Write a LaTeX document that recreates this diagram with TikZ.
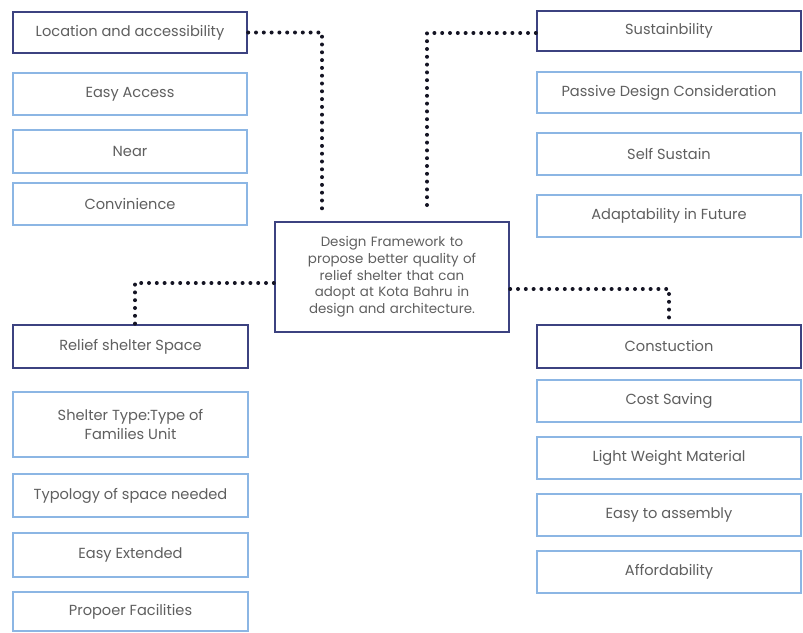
\documentclass[tikz,border=0pt]{standalone}
\usepackage{fontspec}
\setmainfont{Poppins}
\usetikzlibrary{positioning}
\definecolor{navy}{RGB}{60,66,128}
\definecolor{lightb}{RGB}{140,182,228}
\definecolor{txt}{RGB}{95,95,95}
\definecolor{dotc}{RGB}{20,20,35}
\tikzset{
  boxbase/.style={rectangle, fill=white, text=txt, align=center, inner sep=2pt,
    font=\fontsize{14.6}{19.5}\selectfont},
  darkbox/.style={boxbase, draw=navy, line width=2.4pt},
  lightbox/.style={boxbase, draw=lightb, line width=2pt},
  dotline/.style={draw=dotc, line width=4pt, line cap=round, dash pattern=on 0pt off 7.8pt}
}
\begin{document}
\begin{tikzpicture}[x=1pt,y=-1pt]
\useasboundingbox (0,0) rectangle (803,632);
% left top column
\node[darkbox, minimum width=234, minimum height=41] (loc) at (130,32.5) {Location and accessibility};
\node[lightbox, minimum width=234, minimum height=42] (ea) at (130,94) {Easy Access};
\node[lightbox, minimum width=234, minimum height=43] (near) at (130,151.5) {Near};
\node[lightbox, minimum width=234, minimum height=42] (conv) at (130,204) {Convinience};
% right top column
\node[darkbox, minimum width=264, minimum height=40] (sus) at (669,31) {Sustainbility};
\node[lightbox, minimum width=264, minimum height=41] (pas) at (669,92.5) {Passive Design Consideration};
\node[lightbox, minimum width=264, minimum height=42] (self) at (669,154) {Self Sustain};
\node[lightbox, minimum width=264, minimum height=42] (adap) at (669,216) {Adaptability in Future};
% center
\node[darkbox, minimum width=234, minimum height=110, text width=226,
  font=\fontsize{13.4}{16.7}\selectfont] (ctr) at (392,277)
  {Design Framework to\\propose better quality of\\relief shelter that can\\adopt at Kota Bahru in\\design and architecture.};
% left bottom column
\node[darkbox, minimum width=235, minimum height=43] (rel) at (130.5,346.5) {Relief shelter Space};
\node[lightbox, minimum width=235, minimum height=65] (shel) at (130.5,424.5) {Shelter Type:Type of\\Families Unit};
\node[lightbox, minimum width=235, minimum height=43] (typo) at (130.5,495.5) {Typology of space needed};
\node[lightbox, minimum width=235, minimum height=44] (ext) at (130.5,555) {Easy Extended};
\node[lightbox, minimum width=235, minimum height=39] (fac) at (130.5,611.5) {Propoer Facilities};
% right bottom column
\node[darkbox, minimum width=264, minimum height=43] (cons) at (669,346.5) {Constuction};
\node[lightbox, minimum width=264, minimum height=42] (cost) at (669,401) {Cost Saving};
\node[lightbox, minimum width=264, minimum height=42] (light) at (669,458) {Light Weight Material};
\node[lightbox, minimum width=264, minimum height=42] (assm) at (669,515) {Easy to assembly};
\node[lightbox, minimum width=264, minimum height=42] (aff) at (669,572) {Affordability};
% connector ends above the centre box
\coordinate (c1) at (322,212);
\coordinate (c2) at (427,212);
% connectors
\draw[dotline] (loc.east) -| (c1);
\draw[dotline] ([yshift=-2pt]sus.west) -| (c2);
\draw[dotline] ([yshift=-6pt]ctr.west) -| ([xshift=4.5pt]rel.north);
\draw[dotline] ([yshift=-12pt]ctr.east) -| (cons.north);
\end{tikzpicture}
\end{document}
